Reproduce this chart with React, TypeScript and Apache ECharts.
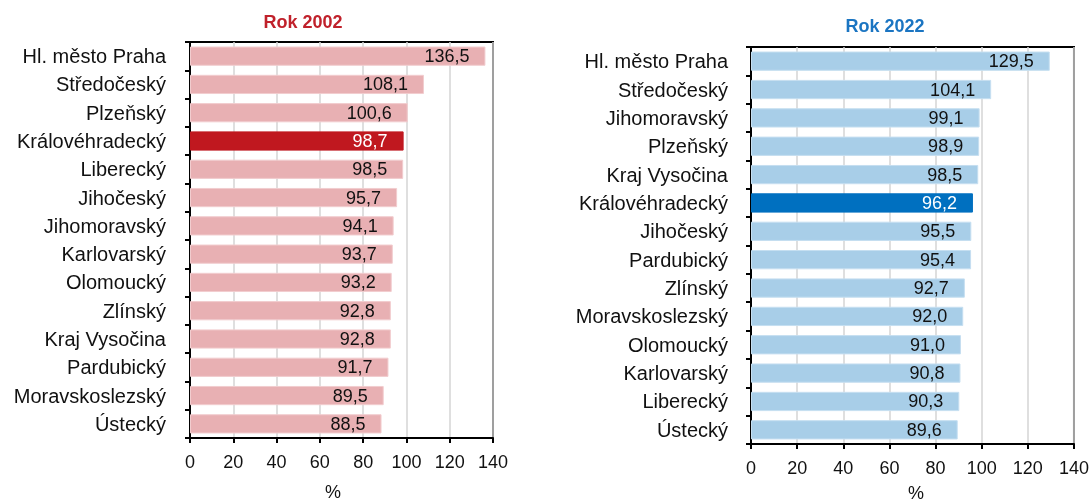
import React, { useEffect, useRef } from "react";
import * as echarts from "echarts";

const regions2002 = ["Hl. město Praha", "Středočeský", "Plzeňský", "Královéhradecký", "Liberecký", "Jihočeský", "Jihomoravský", "Karlovarský", "Olomoucký", "Zlínský", "Kraj Vysočina", "Pardubický", "Moravskoslezský", "Ústecký"];
const values2002 = [136.5, 108.1, 100.6, 98.7, 98.5, 95.7, 94.1, 93.7, 93.2, 92.8, 92.8, 91.7, 89.5, 88.5];
const regions2022 = ["Hl. město Praha", "Středočeský", "Jihomoravský", "Plzeňský", "Kraj Vysočina", "Královéhradecký", "Jihočeský", "Pardubický", "Zlínský", "Moravskoslezský", "Olomoucký", "Karlovarský", "Liberecký", "Ústecký"];
const values2022 = [129.5, 104.1, 99.1, 98.9, 98.5, 96.2, 95.5, 95.4, 92.7, 92.0, 91.0, 90.8, 90.3, 89.6];
const highlightRegion = "Královéhradecký";
const xTicks = { min: 0, max: 140, interval: 20 };

const FONT = "'Liberation Sans', Arial, sans-serif";

export default function App() {
  const ref = useRef<HTMLDivElement>(null);
  useEffect(() => {
    document.body.style.margin = "0";
    const chart = echarts.init(ref.current!, undefined, { renderer: "svg" });
    const fmt = (p: any) => Number(p.value).toFixed(1).replace(".", ",");
    const mkData = (cats: string[], vals: number[], pale: string, paleBorder: string, strong: string) =>
      vals.map((v, i) =>
        cats[i] === highlightRegion
          ? { value: v, itemStyle: { color: strong, borderColor: strong, borderWidth: 1 }, label: { color: "#ffffff" } }
          : { value: v, itemStyle: { color: pale, borderColor: paleBorder, borderWidth: 1 } }
      );
    const xAxisBase = (gridIndex: number) => ({
      type: "value",
      gridIndex,
      ...xTicks,
      axisLine: { show: true, lineStyle: { color: "#000", width: 2 } },
      axisTick: { show: true, length: 5, lineStyle: { color: "#000", width: 2 } },
      axisLabel: { fontSize: 18, color: "#111", fontFamily: FONT, margin: 15 },
      splitLine: { show: true, lineStyle: { color: "#d4d4d4", width: 1.5 } },
    });
    const yAxisBase = (gridIndex: number, cats: string[], margin: number) => ({
      type: "category",
      gridIndex,
      inverse: true,
      data: cats,
      axisLine: { show: true, lineStyle: { color: "#000", width: 2 } },
      axisTick: { show: true, length: 5, lineStyle: { color: "#000", width: 2 } },
      axisLabel: { fontSize: 20, color: "#111", fontFamily: FONT, margin },
    });
    const labelBase = {
      show: true,
      position: "insideRight",
      distance: 16,
      fontSize: 18,
      color: "#111",
      fontFamily: FONT,
      formatter: fmt,
    };
    chart.setOption({
      animation: false,
      grid: [
        { left: 190, right: 1092 - 493, top: 42, bottom: 504 - 438, show: true, borderColor: "#000", borderWidth: 2 },
        { left: 751, right: 1092 - 1077, top: 47, bottom: 504 - 444, show: true, borderColor: "#000", borderWidth: 2 },
      ],
      xAxis: [xAxisBase(0), xAxisBase(1)],
      yAxis: [yAxisBase(0, regions2002, 24), yAxisBase(1, regions2022, 23)],
      series: [
        {
          type: "bar",
          xAxisIndex: 0,
          yAxisIndex: 0,
          barCategoryGap: "32%",
          data: mkData(regions2002, values2002, "#E8B0B3", "#F2CDCF", "#C0181F"),
          label: labelBase,
        },
        {
          type: "bar",
          xAxisIndex: 1,
          yAxisIndex: 1,
          barCategoryGap: "32%",
          data: mkData(regions2022, values2022, "#A8CEE8", "#C6DFF1", "#0070C0"),
          label: labelBase,
        },
      ],
      graphic: [
        { type: "text", x: 303, y: 22, style: { text: "Rok 2002", fill: "#C0212B", font: `bold 18px ${FONT}`, textAlign: "center", textVerticalAlign: "middle" } },
        { type: "text", x: 885, y: 26, style: { text: "Rok 2022", fill: "#1B75C2", font: `bold 18px ${FONT}`, textAlign: "center", textVerticalAlign: "middle" } },
        { type: "text", x: 333, y: 492, style: { text: "%", fill: "#111", font: `18px ${FONT}`, textAlign: "center", textVerticalAlign: "middle" } },
        { type: "text", x: 916, y: 493, style: { text: "%", fill: "#111", font: `18px ${FONT}`, textAlign: "center", textVerticalAlign: "middle" } },
      ],
    });
    return () => chart.dispose();
  }, []);
  return <div ref={ref} style={{ position: "fixed", left: 0, top: 0, width: 1092, height: 504 }} />;
}
